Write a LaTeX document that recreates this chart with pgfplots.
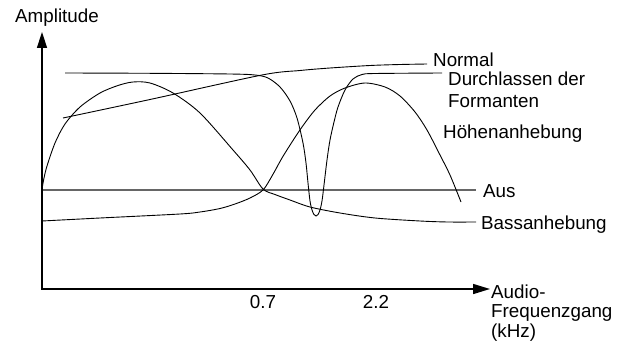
\documentclass[border=0pt]{standalone}
\usepackage{pgfplots}
\pgfplotsset{compat=1.18}
\usepackage{fontspec}
\setmainfont{Liberation Sans}
\usetikzlibrary{arrows.meta}
\tikzset{lbl/.style={anchor=west, inner sep=0pt}}
\begin{document}
\fontsize{18.8bp}{22bp}\selectfont
\begin{tikzpicture}
\begin{axis}[
  width=628bp, height=345bp, scale only axis,
  xmin=0, xmax=628, ymin=0, ymax=345, y dir=reverse,
  hide axis, clip=false,
]
\coordinate (BBa) at (axis cs:0,345);
\coordinate (BBb) at (axis cs:628,0);
% Aus
\addplot[line width=2bp, color=black!60, mark=none] coordinates {(42,190) (476,190)};
% Normal
\addplot[black, line width=0.9bp, mark=none, smooth] coordinates {(63,118) (150,99.5) (262,75) (300,70.5) (330,68) (370,65.5) (400,64.5) (427,64)};
% Durchlassen der Formanten
\addplot[black, line width=0.9bp, mark=none, smooth] coordinates {(65,73) (150,73.3) (230,74) (255,75) (268,78) (280,87) (290,101) (297,118) (303,143) (306,163) (308,183) (310,201) (312,210) (314,214.5) (316,216) (318,214.5) (320,210) (322,201) (324,185) (327,160) (330,140) (334,122) (338,107) (345,90) (353,79) (362,74.5) (375,73.5) (442,73)};
% Bassanhebung
\addplot[black, line width=0.9bp, mark=none, smooth] coordinates {(42,189) (44,178) (47,166) (55,143) (65,124) (80,107) (100,93) (118,85.5) (133,82) (150,83) (173,93) (200,113) (233,150) (250,170) (263,189) (275,194.5) (290,200) (310,207) (340,213) (375,218) (420,221) (448,222) (476,222)};
% Hoehenanhebung
\addplot[black, line width=0.9bp, mark=none, smooth] coordinates {(42,221) (100,218) (180,214) (200,212) (220,208.5) (235,204) (250,198) (263,190) (272,176) (282,158) (292,142) (302,127) (315,110) (330,96) (345,88) (365,83) (385,87) (400,96) (415,112) (427,130) (440,155) (450,175) (461,202)};
% axes
\draw[line width=1.5bp, -{Triangle[length=16bp, width=10bp]}] (axis cs:42,289.5) -- (axis cs:42,32);
\draw[line width=1.5bp, -{Triangle[length=17bp, width=10bp]}] (axis cs:41.25,289) -- (axis cs:490,289);
% labels
\node[lbl] at (axis cs:15,18) {Amplitude};
\node[anchor=center, inner sep=0pt] at (axis cs:263,302) {0.7};
\node[anchor=center, inner sep=0pt] at (axis cs:376,302) {2.2};
\node[lbl] at (axis cs:433,60) {Normal};
\node[lbl] at (axis cs:448,79) {Durchlassen der};
\node[lbl] at (axis cs:448,101) {Formanten};
\node[lbl] at (axis cs:443,134) {Höhenanhebung};
\node[lbl] at (axis cs:483,191) {Aus};
\node[lbl] at (axis cs:481,225) {Bassanhebung};
\node[lbl] at (axis cs:491,292) {Audio-};
\node[lbl] at (axis cs:491,313) {Frequenzgang};
\node[lbl] at (axis cs:491,333) {(kHz)};
\end{axis}
\pgfresetboundingbox
\useasboundingbox (BBa) rectangle (BBb);
\end{tikzpicture}
\end{document}
